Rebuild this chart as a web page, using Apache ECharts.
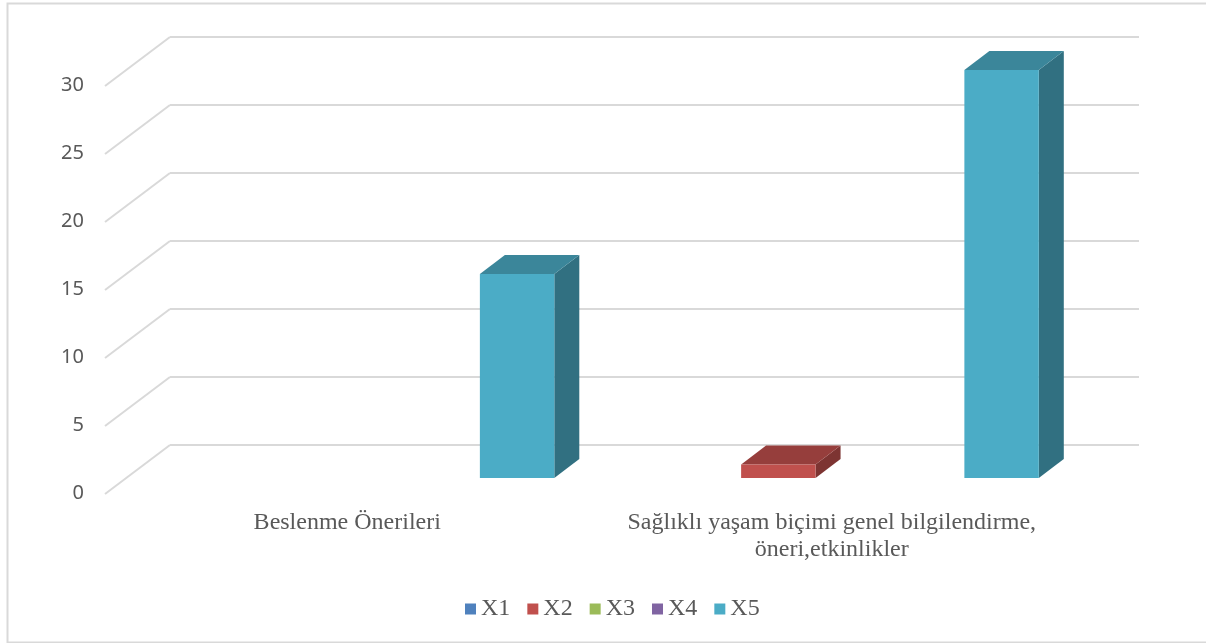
<!DOCTYPE html>
<html>
<head>
<meta charset="utf-8">
<script src="https://cdn.jsdelivr.net/npm/echarts@6/dist/echarts.min.js"></script>
<style>
  html, body { margin: 0; padding: 0; background: #ffffff; }
  #chart { width: 1206px; height: 643px; }
</style>
</head>
<body>
<div id="chart"></div>
<script>
// Categories and series values
const categories = ['Beslenme Önerileri', 'Sağlıklı yaşam biçimi genel bilgilendirme, öneri,etkinlikler'];
const seriesNames = ['X1', 'X2', 'X3', 'X4', 'X5'];
const valuesX1 = [0, 0];
const valuesX2 = [0, 1];
const valuesX3 = [0, 0];
const valuesX4 = [0, 0];
const valuesX5 = [15, 30];
const yTickValues = [0, 5, 10, 15, 20, 25, 30];

const seriesValues = [valuesX1, valuesX2, valuesX3, valuesX4, valuesX5];
const palette = ['#4F81BD', '#C0504D', '#9BBB59', '#8064A2', '#4BACC6'];

// 3D look: wall depth and bar depth offsets (screen px)
const WALL_DX = 65, WALL_DY = 49;
const BAR_DX = 25, BAR_DY = -19;
const CAT_GAP = 0.232;
const GRID_COLOR = '#d9d9d9';
const LABEL_COLOR = '#595959';

// darken a hex colour by a factor (0..1)
function shade(hex, f) {
  const n = parseInt(hex.slice(1), 16);
  const r = Math.round(((n >> 16) & 255) * f);
  const g = Math.round(((n >> 8) & 255) * f);
  const b = Math.round((n & 255) * f);
  return 'rgb(' + r + ',' + g + ',' + b + ')';
}

const chart = echarts.init(document.getElementById('chart'), null, { renderer: 'canvas' });

function valueAxis(gridIndex, showLabels, showSplit) {
  return {
    type: 'value', gridIndex, min: 0, max: 30, interval: 5,
    axisLine: { show: false }, axisTick: { show: false },
    splitLine: { show: showSplit, lineStyle: { color: GRID_COLOR, width: 2 } },
    axisLabel: {
      show: showLabels, margin: 21, color: LABEL_COLOR,
      fontFamily: 'Noto Sans', fontSize: 20
    }
  };
}
function catAxis(gridIndex) {
  return {
    type: 'category', gridIndex, data: categories,
    axisLine: { show: false }, axisTick: { show: false },
    axisLabel: { show: false }
  };
}

// Diagonal floor part of each gridline
function renderDiagonal(params, api) {
  const y = api.coord([0, api.value(1)])[1];
  const x0 = params.coordSys.x;
  return {
    type: 'line',
    shape: { x1: x0 - WALL_DX, y1: y + WALL_DY, x2: x0, y2: y },
    style: { stroke: GRID_COLOR, lineWidth: 2 }
  };
}

// Category labels under the front edge, wrapped after the comma, each line centred
function renderCategoryLabel(params, api) {
  const idx = api.value(0);
  const p = api.coord([idx, 0]);
  const lines = categories[idx].replace(', ', ',\n').split('\n');
  return {
    type: 'group',
    children: lines.map((line, i) => ({
      type: 'text',
      style: {
        text: line, x: p[0], y: p[1] + 30 + i * 27,
        align: 'center', verticalAlign: 'middle',
        fill: LABEL_COLOR, font: '24px "Liberation Serif"'
      }
    }))
  };
}

// 3D bar: front face, top face and right side face
function makeBarRenderer(k) {
  const color = palette[k];
  const topColor = shade(color, 0.78);
  const sideColor = shade(color, 0.65);
  return function (params, api) {
    const cat = api.value(0), val = api.value(1);
    if (!val) return null;
    const band = api.size([1, 0])[0];
    const groupW = band * (1 - CAT_GAP);
    const slot = groupW / seriesNames.length;
    const base = api.coord([cat, 0]);
    const top = api.coord([cat, val]);
    const x0 = base[0] - groupW / 2 + k * slot;
    const x1 = x0 + slot;
    const yb = base[1], yt = top[1];
    return {
      type: 'group',
      children: [
        {
          type: 'polygon',
          shape: { points: [[x1, yt], [x1 + BAR_DX, yt + BAR_DY], [x1 + BAR_DX, yb + BAR_DY], [x1, yb]] },
          style: { fill: sideColor }
        },
        {
          type: 'polygon',
          shape: { points: [[x0, yt], [x0 + BAR_DX, yt + BAR_DY], [x1 + BAR_DX, yt + BAR_DY], [x1, yt]] },
          style: { fill: topColor }
        },
        {
          type: 'rect',
          shape: { x: x0, y: yt, width: slot, height: yb - yt },
          style: { fill: color }
        }
      ]
    };
  };
}

const barSeries = seriesNames.map((name, k) => ({
  name,
  type: 'custom',
  xAxisIndex: 1, yAxisIndex: 1,
  itemStyle: { color: palette[k] },
  renderItem: makeBarRenderer(k),
  encode: { x: 0, y: 1 },
  data: seriesValues[k].map((v, i) => [i, v]),
  silent: true,
  z: 5
}));

const option = {
  animation: false,
  grid: [
    { left: 170, width: 969, top: 37, height: 408 },   // back wall
    { left: 126, width: 969, top: 70, height: 408 },   // bar plane
    { left: 105, width: 969, top: 85, height: 408 }    // front plane (labels)
  ],
  xAxis: [catAxis(0), catAxis(1), catAxis(2)],
  yAxis: [valueAxis(0, false, true), valueAxis(1, false, false), valueAxis(2, true, false)],
  legend: {
    data: seriesNames,
    left: 460, top: 592,
    icon: 'rect', itemWidth: 11, itemHeight: 11, itemGap: 17,
    textStyle: { fontFamily: 'Liberation Serif', fontSize: 24, color: LABEL_COLOR }
  },
  graphic: [{
    type: 'rect', left: 5, top: 1, silent: true,
    shape: { width: 1210, height: 639 },
    style: { fill: 'none', stroke: GRID_COLOR, lineWidth: 2 }
  }],
  series: [
    {
      type: 'custom', xAxisIndex: 0, yAxisIndex: 0,
      itemStyle: { color: GRID_COLOR },
      renderItem: renderDiagonal,
      encode: { x: 0, y: 1 },
      data: yTickValues.map(v => [0, v]),
      silent: true, z: 1
    },
    {
      type: 'custom', xAxisIndex: 2, yAxisIndex: 2,
      itemStyle: { color: LABEL_COLOR },
      renderItem: renderCategoryLabel,
      encode: { x: 0, y: 1 },
      data: categories.map((c, i) => [i, 0]),
      clip: false, silent: true, z: 3
    }
  ].concat(barSeries)
};

chart.setOption(option);
</script>
</body>
</html>
